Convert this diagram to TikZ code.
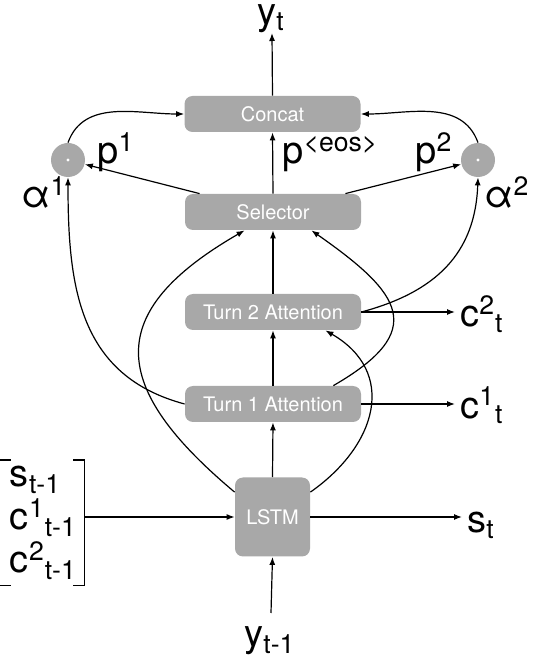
\documentclass[tikz,border=0pt]{standalone}
\usepackage{fontspec}
\setmainfont{TeX Gyre Heros}
\usetikzlibrary{arrows.meta,positioning}
\definecolor{boxgray}{HTML}{A8A8A8}

\tikzset{
  block/.style={fill=boxgray, rounded corners=4pt, text=white,
    font=\fontsize{10}{11}\selectfont, minimum width=88pt, minimum height=18pt, inner sep=0pt},
  dotnode/.style={circle, fill=boxgray, minimum size=17pt, inner sep=0pt},
  lbl/.style={font=\fontsize{19}{21.5}\selectfont, inner sep=0pt},
  arr/.style={-{Latex[length=4pt,width=3pt]}, line width=0.6pt},
}

\begin{document}
\begin{tikzpicture}[x=0.5pt,y=0.5pt]
\useasboundingbox (0,0) rectangle (544,660);
% Blocks
\node[block] (concat) at (272.5,546) {Concat};
\node[block] (sel) at (273,448) {Selector};
\node[block] (att2) at (273,348) {Turn 2 Attention};
\node[block] (att1) at (273,256) {Turn 1 Attention};
\node[block, minimum width=37.5pt, minimum height=39.5pt] (lstm) at (272.5,143) {LSTM};

% Weighting circles
\node[dotnode] (a1) at (68,500) {};
\node[dotnode] (a2) at (478,500) {};
\fill[white] (a1) circle (0.8pt);
\fill[white] (a2) circle (0.8pt);

% Labels
\node[lbl, anchor=base] (yt) at (271,635) {y\textsubscript{t}};
\node[lbl, anchor=base] (p1) at (116,496) {p\textsuperscript{1}};
\node[lbl, anchor=base west] (peos) at (282,496) {p\textsuperscript{\textless eos\textgreater}};
\node[lbl, anchor=base] (p2) at (434,496) {p\textsuperscript{2}};
\node[lbl, anchor=base] (al1) at (44,452) {α\textsuperscript{1}};
\node[lbl, anchor=base] (al2) at (507,452) {α\textsuperscript{2}};
\node[lbl, anchor=base west] (c2t) at (460,333) {c\textsuperscript{2}\textsubscript{t}};
\node[lbl, anchor=base west] (c1t) at (460,242) {c\textsuperscript{1}\textsubscript{t}};
\node[lbl, anchor=base west] (st) at (467,127) {s\textsubscript{t}};
\node[lbl, anchor=base] (ytm) at (270,13) {y\textsubscript{t-1}};
\node[lbl, align=left, text width=32pt, inner xsep=5pt, minimum height=62.5pt] (vec) at (42,137)
  {s\textsubscript{t-1}\\c\textsuperscript{1}\textsubscript{t-1}\\c\textsuperscript{2}\textsubscript{t-1}};
\draw[line width=0.6pt] ([xshift=5.5pt]vec.north west) -- (vec.north west) -- (vec.south west) -- ++(11,0);
\draw[line width=0.6pt] ([xshift=-5.5pt]vec.north east) -- (vec.north east) -- (vec.south east) -- ++(-11,0);

% Endpoints of free arrows
\coordinate (ytend) at (272,627);
\coordinate (c2end) at (455,348);
\coordinate (c1end) at (455,256);
\coordinate (stend) at (462,143);
\coordinate (ytmstart) at (271,47);

% Straight flow
\draw[arr] (ytmstart) -- (lstm.south);
\draw[arr] (lstm.north) -- (att1.south);
\draw[arr] (att1.north) -- (att2.south);
\draw[arr] (att2.north) -- (sel.south);
\draw[arr] (sel.north) -- (concat.south);
\draw[arr] (concat.north) -- (ytend);
\draw[arr] (vec.east |- lstm.west) -- (lstm.west);
\draw[arr] (lstm.east) -- (stend);
\draw[arr] (att1.east) -- (c1end);
\draw[arr] (att2.east) -- (c2end);
\draw[arr] ([xshift=7.5pt]sel.north west) -- (a1);
\draw[arr] ([xshift=-8pt]sel.north east) -- (a2);

% Curved connections
\draw[arr] (a1.north) to[out=70, in=180] (concat.west);
\draw[arr] (a2.north) to[out=110, in=0] (concat.east);
\draw[arr] (att1.west) to[out=165, in=-90, looseness=1.1] (a1.south);
\draw[arr] (att2.east) to[out=15, in=-92, looseness=1.1] (a2.south);
\draw[arr] ([xshift=-14pt]att1.north east) to[out=30, in=-35, looseness=1.8] ([xshift=-25pt]sel.south east);
\draw[arr] ([yshift=-7.5pt]lstm.north west) to[out=140, in=210, looseness=1.6] ([xshift=30pt]sel.south west);
\draw[arr] ([yshift=-7.5pt]lstm.north east) to[out=35, in=-30, looseness=1.3] ([xshift=-18pt]att2.south east);
\end{tikzpicture}
\end{document}
